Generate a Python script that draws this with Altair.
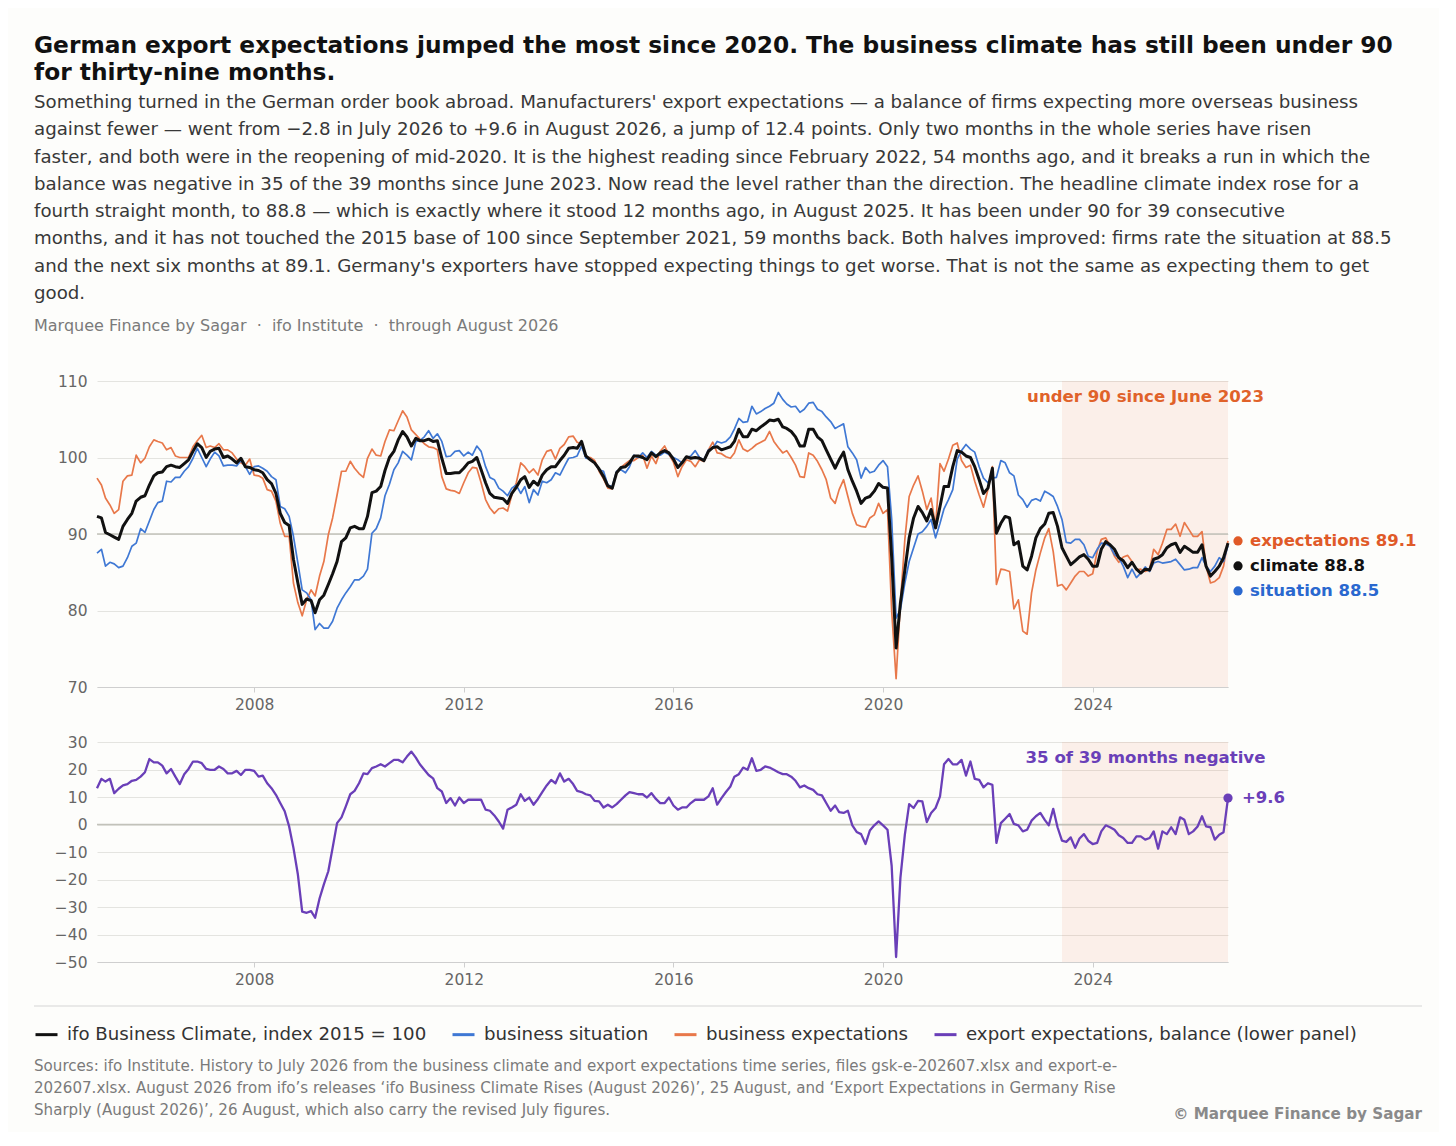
import altair as alt
import pandas as pd

# ---------------- data (monthly, Jan 2005 .. Aug 2026) ----------------
climate = [
    92.3, 92.1, 90.2, 89.9, 89.6, 89.3, 91.0, 91.9, 92.7, 94.3, 94.8, 95.0,      # 2005
    96.4, 97.6, 98.0, 98.1, 98.8, 99.0, 98.8, 98.7, 99.2, 99.7, 100.8, 101.8,    # 2006
    101.3, 100.0, 100.8, 101.1, 101.2, 100.0, 100.2, 99.8, 99.3, 99.9, 98.8, 98.7,  # 2007
    98.4, 98.3, 98.0, 97.1, 96.6, 95.3, 92.7, 91.5, 91.1, 86.7, 83.6, 80.8,      # 2008
    81.5, 81.3, 79.7, 81.4, 82.0, 83.4, 84.8, 86.4, 89.0, 89.5, 90.8, 91.0,      # 2009
    90.7, 90.7, 92.3, 95.4, 95.6, 96.2, 98.3, 100.0, 100.8, 102.3, 103.4, 102.7,  # 2010
    101.5, 102.5, 102.2, 102.2, 102.4, 102.1, 102.2, 99.9, 97.9, 97.9, 98.0, 98.0,  # 2011
    98.6, 99.3, 99.5, 100.0, 98.4, 96.7, 95.3, 94.8, 94.7, 94.6, 94.0, 95.3,     # 2012
    96.1, 97.1, 97.5, 96.1, 96.9, 96.4, 97.7, 98.4, 98.8, 98.8, 99.6, 100.3,     # 2013
    101.2, 101.3, 101.2, 102.1, 100.2, 99.7, 99.3, 98.5, 97.5, 96.3, 96.0, 98.0,  # 2014
    98.7, 98.8, 99.3, 100.2, 100.2, 100.0, 99.7, 100.6, 100.1, 100.6, 100.9, 100.6,  # 2015
    99.8, 98.7, 99.3, 100.1, 99.9, 100.0, 99.9, 99.6, 100.8, 101.3, 101.4, 101.0,  # 2016
    101.2, 101.4, 102.1, 103.7, 102.7, 102.7, 103.7, 103.5, 104.0, 104.4, 104.9, 104.8,  # 2017
    105.0, 104.0, 103.8, 103.4, 102.7, 101.5, 101.5, 103.7, 103.7, 102.7, 102.2, 101.0,  # 2018
    99.8, 98.6, 99.7, 100.7, 98.4, 96.9, 95.6, 94.0, 94.7, 94.9, 95.6, 96.6,     # 2019
    96.1, 96.0, 87.0, 75.1, 81.0, 85.3, 89.5, 92.1, 93.6, 92.8, 91.7, 93.2,      # 2020
    90.8, 93.6, 96.2, 96.2, 98.8, 100.9, 100.7, 100.2, 100.0, 98.8, 97.1, 95.3,  # 2021
    96.0, 98.6, 90.1, 91.4, 92.3, 92.1, 88.6, 89.0, 85.8, 85.3, 87.1, 89.5,      # 2022
    90.7, 91.3, 92.7, 92.8, 91.0, 88.2, 87.1, 86.0, 86.5, 87.0, 87.3, 86.7,      # 2023
    85.8, 85.8, 88.0, 89.0, 88.6, 88.0, 86.9, 86.5, 85.6, 86.3, 85.4, 84.9,      # 2024
    85.4, 85.3, 86.7, 86.9, 87.3, 88.2, 88.6, 88.8, 87.6, 88.4, 88.0, 87.6,      # 2025
    87.6, 88.6, 85.8, 84.5, 85.1, 85.8, 86.9, 88.8,                              # 2026
]

situation = [
    87.5, 88.0, 85.8, 86.3, 86.1, 85.6, 85.8, 86.9, 88.4, 88.8, 90.7, 90.2,      # 2005
    91.7, 93.2, 94.1, 94.3, 96.9, 96.8, 97.4, 97.4, 98.2, 98.8, 99.9, 101.2,     # 2006
    100.0, 98.8, 99.8, 100.7, 100.2, 98.9, 99.0, 99.0, 98.9, 99.6, 98.8, 97.8,   # 2007
    98.8, 98.9, 98.6, 98.2, 97.5, 97.1, 93.6, 93.3, 92.3, 89.7, 86.2, 82.7,      # 2008
    82.3, 81.4, 77.5, 78.3, 77.7, 77.7, 78.6, 80.3, 81.4, 82.3, 83.1, 84.0,      # 2009
    84.0, 84.5, 85.4, 90.1, 90.7, 92.1, 95.0, 96.5, 98.4, 99.3, 100.8, 100.3,    # 2010
    99.7, 102.1, 102.2, 102.7, 103.5, 102.5, 103.1, 102.1, 100.1, 100.2, 100.8, 100.9,  # 2011
    100.2, 100.7, 100.3, 101.5, 100.8, 98.8, 97.4, 97.1, 96.0, 95.6, 95.0, 96.0,  # 2012
    96.4, 95.3, 96.2, 94.1, 95.8, 95.1, 96.9, 96.7, 97.1, 98.0, 97.7, 98.8,      # 2013
    99.9, 100.0, 100.2, 101.5, 99.9, 99.8, 99.3, 98.4, 98.2, 96.4, 96.2, 98.2,   # 2014
    98.4, 98.0, 98.8, 100.3, 100.0, 100.6, 100.0, 100.8, 100.3, 100.3, 100.7, 100.4,  # 2015
    100.0, 99.7, 99.3, 100.0, 100.2, 100.9, 100.0, 99.7, 101.0, 101.2, 102.1, 101.9,  # 2016
    102.1, 102.7, 103.7, 105.1, 104.6, 104.7, 106.7, 105.7, 106.0, 106.4, 106.7, 107.1,  # 2017
    108.5, 107.6, 107.0, 106.6, 106.7, 105.9, 106.3, 107.1, 107.2, 106.3, 106.0, 105.3,  # 2018
    104.7, 103.8, 104.1, 104.4, 101.4, 100.6, 99.7, 97.3, 98.7, 98.0, 98.2, 99.0,  # 2019
    99.6, 98.8, 92.0, 79.0, 80.1, 83.6, 86.4, 88.2, 90.0, 90.3, 91.0, 91.9,      # 2020
    89.5, 91.4, 93.3, 94.5, 95.8, 99.8, 100.9, 101.7, 101.1, 100.7, 98.8, 97.3,  # 2021
    96.7, 97.3, 97.4, 99.6, 99.3, 98.0, 97.6, 95.1, 94.5, 93.5, 94.4, 94.6,      # 2022
    94.3, 95.6, 95.3, 94.9, 93.6, 91.9, 88.9, 88.8, 89.3, 89.3, 88.6, 87.1,      # 2023
    86.9, 88.0, 88.8, 88.7, 88.4, 87.3, 86.9, 85.8, 84.3, 85.4, 84.3, 84.9,      # 2024
    85.7, 85.1, 86.2, 86.4, 86.2, 86.3, 86.4, 86.7, 86.0, 85.3, 85.4, 85.6,      # 2025
    85.6, 86.9, 85.8, 85.1, 85.8, 86.9, 86.4, 88.5,                              # 2026
]

expectations = [
    97.3, 96.4, 94.7, 93.8, 92.7, 93.2, 96.9, 97.6, 97.7, 100.3, 99.3, 99.9,     # 2005
    101.4, 102.3, 102.1, 101.9, 101.0, 101.3, 100.2, 100.0, 100.0, 100.0, 101.4, 102.2,  # 2006
    102.9, 101.3, 101.5, 101.3, 101.8, 101.0, 101.0, 100.6, 99.8, 99.3, 99.0, 99.8,  # 2007
    97.7, 97.6, 97.3, 95.8, 95.6, 94.3, 91.4, 89.7, 89.7, 83.6, 81.0, 79.3,      # 2008
    81.4, 82.7, 81.9, 84.5, 86.4, 89.9, 92.1, 95.1, 98.2, 98.2, 99.5, 98.6,      # 2009
    97.9, 97.4, 99.9, 101.1, 100.3, 100.2, 102.1, 103.6, 103.5, 104.8, 106.1, 105.3,  # 2010
    103.6, 103.0, 102.4, 101.8, 101.4, 101.3, 101.0, 97.5, 95.9, 95.7, 95.6, 95.3,  # 2011
    96.7, 98.0, 98.7, 98.6, 96.7, 94.5, 93.4, 92.7, 93.3, 93.4, 93.0, 95.1,      # 2012
    96.7, 99.3, 98.8, 98.0, 98.5, 97.7, 99.7, 100.8, 101.0, 99.8, 101.2, 101.7,  # 2013
    102.7, 102.8, 102.0, 101.8, 100.1, 100.0, 99.6, 98.2, 97.2, 96.0, 95.9, 98.0,  # 2014
    98.7, 99.2, 99.6, 99.6, 100.0, 100.3, 98.6, 100.2, 99.2, 100.8, 101.5, 100.4,  # 2015
    99.4, 97.5, 98.8, 99.7, 99.5, 98.8, 99.7, 99.5, 101.0, 102.0, 100.6, 100.5,  # 2016
    100.1, 99.9, 100.6, 102.3, 101.1, 100.8, 101.2, 101.7, 102.0, 102.3, 103.4, 102.1,  # 2017
    101.3, 100.6, 100.9, 100.0, 99.0, 97.5, 97.4, 100.6, 100.3, 99.5, 98.4, 97.1,  # 2018
    94.7, 94.0, 95.8, 97.1, 94.9, 92.7, 91.2, 91.0, 90.9, 92.1, 92.5, 94.0,      # 2019
    92.7, 93.2, 80.0, 71.1, 81.0, 89.3, 94.9, 96.4, 97.6, 95.6, 93.2, 94.7,      # 2020
    91.0, 99.2, 98.2, 99.8, 101.6, 101.9, 99.6, 98.7, 99.0, 96.9, 95.1, 93.5,    # 2021
    95.8, 98.8, 83.4, 85.4, 85.3, 85.1, 80.2, 81.4, 77.3, 76.9, 82.3, 85.3,      # 2022
    87.5, 89.5, 90.7, 87.7, 83.2, 83.4, 82.7, 83.6, 84.5, 85.1, 85.1, 84.5,      # 2023
    84.8, 87.7, 89.3, 89.5, 88.4, 87.1, 86.3, 87.0, 87.2, 86.4, 85.3, 85.4,      # 2024
    85.1, 85.4, 88.0, 87.3, 88.8, 90.6, 90.6, 91.3, 89.7, 91.5, 90.6, 89.7,      # 2025
    89.7, 90.3, 85.8, 83.6, 83.8, 84.3, 85.8, 89.1,                              # 2026
]

exports = [
    13.2, 16.6, 15.6, 16.6, 11.4, 13.0, 14.2, 14.7, 15.9, 16.2, 17.4, 19.0,      # 2005
    23.8, 22.6, 22.6, 21.4, 18.6, 20.2, 17.4, 14.7, 18.3, 20.2, 22.9, 22.9,      # 2006
    22.3, 20.2, 19.9, 19.9, 21.1, 20.2, 18.6, 18.6, 19.5, 18.0, 19.9, 19.9,      # 2007
    19.5, 17.4, 17.8, 15.0, 13.2, 10.8, 7.8, 4.8, -0.7, -8.5, -18.2, -31.7,      # 2008
    -32.1, -31.5, -33.9, -26.9, -21.8, -17.0, -8.5, 0.5, 2.6, 6.6, 11.0, 12.2,   # 2009
    15.0, 18.6, 18.3, 20.5, 21.1, 21.9, 21.1, 22.3, 23.5, 23.5, 22.6, 24.7,      # 2010
    26.5, 24.3, 21.9, 19.9, 18.0, 16.8, 13.2, 12.0, 7.8, 9.6, 6.9, 9.8,          # 2011
    7.8, 9.0, 9.0, 9.0, 9.0, 5.4, 5.0, 3.3, 1.1, -1.5, 5.4, 6.2,                 # 2012
    7.2, 11.0, 8.6, 9.8, 7.2, 9.3, 11.8, 14.2, 16.2, 15.0, 18.6, 15.6,           # 2013
    16.6, 14.7, 12.2, 11.8, 11.0, 10.6, 8.6, 8.4, 6.2, 7.2, 6.2, 7.4,            # 2014
    9.0, 10.6, 11.8, 11.4, 11.0, 11.0, 9.8, 11.4, 9.3, 7.8, 7.8, 9.8,            # 2015
    6.9, 5.4, 6.2, 6.2, 7.8, 9.0, 9.0, 9.0, 10.2, 13.2, 7.2, 9.6,                # 2016
    11.8, 13.8, 17.4, 18.3, 20.7, 19.9, 24.1, 19.5, 19.9, 21.1, 20.7, 19.9,      # 2017
    19.0, 18.3, 18.3, 17.4, 15.9, 13.5, 14.2, 13.2, 12.6, 11.0, 10.6, 7.8,       # 2018
    5.0, 6.9, 4.5, 4.2, 5.0, -0.3, -2.7, -3.5, -7.1, -2.2, -0.3, 1.1,            # 2019
    -0.3, -1.9, -15.0, -48.2, -19.4, -3.7, 7.4, 6.0, 8.6, 8.4, 0.9, 4.2,         # 2020
    6.0, 10.2, 21.9, 23.8, 21.9, 21.9, 23.5, 17.8, 22.9, 16.6, 16.2, 13.5,       # 2021
    15.0, 14.4, -6.7, 0.5, 2.1, 3.8, 0.2, -0.3, -2.5, -1.9, 1.4, 3.0,            # 2022
    4.2, 1.7, -0.3, 5.7, -1.0, -5.9, -6.3, -4.7, -8.5, -5.1, -3.5, -5.9,         # 2023
    -7.1, -6.7, -2.5, -0.3, -1.0, -1.9, -3.9, -4.9, -6.7, -6.7, -4.3, -4.3,      # 2024
    -5.5, -4.9, -2.5, -8.8, -2.5, -3.5, -1.0, -3.5, 2.6, 1.7, -3.5, -2.5,        # 2025
    -0.7, 3.0, -0.7, -1.0, -5.5, -3.7, -2.8, 9.6,                                # 2026
]

series_names = [
    "ifo Business Climate, index 2015 = 100",
    "business situation",
    "business expectations",
    "export expectations, balance (lower panel)",
]
series_colors = ["#111111", "#3f78d4", "#e8784a", "#6a3fb8"]

year_ticks = [2008, 2012, 2016, 2020, 2024]
y_upper_ticks = [70, 80, 90, 100, 110]
y_lower_ticks = [-50, -40, -30, -20, -10, 0, 10, 20, 30]

title_lines = [
    "German export expectations jumped the most since 2020. The business climate has still been under 90",
    "for thirty-nine months.",
]
subtitle_lines = [
    "Something turned in the German order book abroad. Manufacturers' export expectations \u2014 a balance of firms expecting more overseas business",
    "against fewer \u2014 went from \u22122.8 in July 2026 to +9.6 in August 2026, a jump of 12.4 points. Only two months in the whole series have risen",
    "faster, and both were in the reopening of mid-2020. It is the highest reading since February 2022, 54 months ago, and it breaks a run in which the",
    "balance was negative in 35 of the 39 months since June 2023. Now read the level rather than the direction. The headline climate index rose for a",
    "fourth straight month, to 88.8 \u2014 which is exactly where it stood 12 months ago, in August 2025. It has been under 90 for 39 consecutive",
    "months, and it has not touched the 2015 base of 100 since September 2021, 59 months back. Both halves improved: firms rate the situation at 88.5",
    "and the next six months at 89.1. Germany's exporters have stopped expecting things to get worse. That is not the same as expecting them to get",
    "good.",
]
byline = "Marquee Finance by Sagar \u00a0\u00b7\u00a0 ifo Institute \u00a0\u00b7\u00a0 through August 2026"
source_lines = [
    "Sources: ifo Institute. History to July 2026 from the business climate and export expectations time series, files gsk-e-202607.xlsx and export-e-",
    "202607.xlsx. August 2026 from ifo\u2019s releases \u2018ifo Business Climate Rises (August 2026)\u2019, 25 August, and \u2018Export Expectations in Germany Rise",
    "Sharply (August 2026)\u2019, 26 August, which also carry the revised July figures.",
]
copyright_text = "\u00a9 Marquee Finance by Sagar"

# ---------------- frames ----------------
n = len(climate)
dates = [f"{2005 + i // 12}/{i % 12 + 1:02d}/01" for i in range(n)]

def frame(values, name):
    return pd.DataFrame({"date": dates, "value": values, "series": name})

df_clim = frame(climate, series_names[0])
df_sit = frame(situation, series_names[1])
df_exp = frame(expectations, series_names[2])
df_x = frame(exports, series_names[3])
last_up = pd.DataFrame({
    "date": [dates[-1]] * 3,
    "value": [expectations[-1], climate[-1], situation[-1]],
    "label": [f"expectations {expectations[-1]}", f"climate {climate[-1]}", f"situation {situation[-1]}"],
})
last_x = pd.DataFrame({"date": [dates[-1]], "value": [exports[-1]], "label": [f"+{exports[-1]}"]})
shade = pd.DataFrame({"start": ["2023/06/01"], "end": [dates[-1]]})
one = pd.DataFrame({"a": [0]})

FONT = "DejaVu Sans"
W, H = 1131, 581
UP_RANGE = [306, 0]
LOW_RANGE = [581, 361]

x_dom = [alt.DateTime(year=2005, month=1, date=1), alt.DateTime(year=2026, month=8, date=1)]

def xenc(field, offset):
    return alt.X(
        f"{field}:T",
        scale=alt.Scale(domain=x_dom),
        axis=alt.Axis(
            values=[alt.DateTime(year=y, month=1, date=1) for y in year_ticks],
            format="%Y", orient="bottom", offset=offset, grid=False,
            domainColor="#cfcfcf", tickColor="#cfcfcf", tickSize=5,
            labelFontSize=15.5, labelColor="#666666", labelFont=FONT, labelPadding=5,
            title=None,
        ),
    )

def y_axis(vals):
    return alt.Axis(
        values=vals, orient="left", domain=False, ticks=False, grid=True,
        gridColor="#e4e4e0", gridWidth=1, labelFontSize=15.5, labelColor="#666666",
        labelFont=FONT, labelPadding=10, title=None,
    )

up_scale = alt.Scale(domain=[70, 110], range=UP_RANGE, nice=False, zero=False)
low_scale = alt.Scale(domain=[-50, 30], range=LOW_RANGE, nice=False, zero=False)

def yup(field="value"):
    return alt.Y(f"{field}:Q", scale=up_scale, axis=y_axis(y_upper_ticks))

def ylow(field="value"):
    return alt.Y(f"{field}:Q", scale=low_scale, axis=y_axis(y_lower_ticks))

color = alt.Color(
    "series:N",
    scale=alt.Scale(domain=series_names, range=series_colors),
    legend=alt.Legend(
        orient="none", legendX=-63, legendY=641, direction="horizontal", columns=4,
        columnPadding=19, symbolType="stroke", symbolSize=484, symbolStrokeWidth=3,
        labelFontSize=18.2, labelColor="#333333", labelFont=FONT, labelOffset=8,
        labelLimit=0, title=None, padding=0,
    ),
)

# ---------------- upper panel ----------------
up_shade = alt.Chart(shade).mark_rect(color="#e8643a", opacity=0.09).encode(
    x=xenc("start", -275), x2="end:T",
    y=alt.YDatum(110, type="quantitative", scale=up_scale, axis=y_axis(y_upper_ticks)),
    y2=alt.Y2Datum(70),
)
up_rule = alt.Chart(one).mark_rule(color="#c2c2ba", strokeWidth=1.3).encode(
    y=alt.YDatum(90, type="quantitative", scale=up_scale, axis=y_axis(y_upper_ticks))
)
def up_line(df, width):
    return alt.Chart(df).mark_line(strokeWidth=width, strokeJoin="round").encode(
        x=xenc("date", -275), y=yup(), color=color
    )

lab_cfg = [(0, "#e05a28", 0), (1, "#111111", 22.8), (2, "#2a68cf", 45.5)]
up_labels = []
for idx, col, dy in lab_cfg:
    d = last_up.iloc[[idx]]
    up_labels.append(
        alt.Chart(d).mark_circle(size=85, opacity=1, color=col, xOffset=10, yOffset=dy).encode(
            x=xenc("date", -275), y=yup()
        )
    )
    up_labels.append(
        alt.Chart(d).mark_text(align="left", baseline="middle", font=FONT, fontSize=16.5,
                               fontWeight="bold", color=col, xOffset=22, yOffset=dy).encode(
            x=xenc("date", -275), y=yup(), text="label:N"
        )
    )

up_note = alt.Chart(one).mark_text(
    text="under 90 since June 2023", align="center", baseline="middle", font=FONT,
    fontSize=16.6, fontWeight="bold", color="#e0622a",
).encode(x=alt.value(1048.5), y=alt.value(16))

header_title = alt.Chart(one).mark_text(
    text=title_lines, align="left", baseline="alphabetic", font=FONT, fontSize=23.3,
    fontWeight="bold", color="#111111", lineHeight=27,
).encode(x=alt.value(-63), y=alt.value(-328))
header_sub = alt.Chart(one).mark_text(
    text=subtitle_lines, align="left", baseline="alphabetic", font=FONT, fontSize=18.2,
    color="#383838", lineHeight=27.25,
).encode(x=alt.value(-63), y=alt.value(-273))
header_by = alt.Chart(one).mark_text(
    text=byline, align="left", baseline="alphabetic", font=FONT, fontSize=16,
    color="#7a7a7a",
).encode(x=alt.value(-63), y=alt.value(-50))

upper = alt.layer(
    up_shade, up_rule,
    up_line(df_exp, 1.7), up_line(df_sit, 1.7), up_line(df_clim, 3.0),
    *up_labels, up_note, header_title, header_sub, header_by,
)

# ---------------- lower panel ----------------
low_shade = alt.Chart(shade).mark_rect(color="#e8643a", opacity=0.09).encode(
    x=xenc("start", 0), x2="end:T",
    y=alt.YDatum(30, type="quantitative", scale=low_scale, axis=y_axis(y_lower_ticks)),
    y2=alt.Y2Datum(-50),
)
low_rule = alt.Chart(one).mark_rule(color="#c2c2ba", strokeWidth=1.3).encode(
    y=alt.YDatum(0, type="quantitative", scale=low_scale, axis=y_axis(y_lower_ticks))
)
low_line = alt.Chart(df_x).mark_line(strokeWidth=2.3, strokeJoin="round").encode(
    x=xenc("date", 0), y=ylow(), color=color
)
low_dot = alt.Chart(last_x).mark_circle(size=85, opacity=1, color="#6a3fb8").encode(
    x=xenc("date", 0), y=ylow()
)
low_lab = alt.Chart(last_x).mark_text(
    align="left", baseline="middle", font=FONT, fontSize=16.5, fontWeight="bold",
    color="#6a3fb8", xOffset=14,
).encode(x=xenc("date", 0), y=ylow(), text="label:N")
low_note = alt.Chart(one).mark_text(
    text="35 of 39 months negative", align="center", baseline="middle", font=FONT,
    fontSize=16.6, fontWeight="bold", color="#6a3fb8",
).encode(x=alt.value(1048.5), y=alt.value(377))

divider = alt.Chart(one).mark_rule(color="#d6d6d6", strokeWidth=1.2).encode(
    x=alt.value(-63), x2=alt.value(1325), y=alt.value(625)
)
sources = alt.Chart(one).mark_text(
    text=source_lines, align="left", baseline="alphabetic", font=FONT, fontSize=15.1,
    color="#7a7a7a", lineHeight=22,
).encode(x=alt.value(-63), y=alt.value(690))
copyright_mark = alt.Chart(one).mark_text(
    text=copyright_text, align="right", baseline="alphabetic", font=FONT, fontSize=15.2,
    fontWeight="bold", color="#8a8a8a",
).encode(x=alt.value(1325), y=alt.value(738))

lower = alt.layer(
    low_shade, low_rule, low_line, low_dot, low_lab, low_note,
    divider, sources, copyright_mark,
)

chart = (
    alt.layer(upper, lower)
    .resolve_scale(x="independent", y="independent")
    .properties(
        width=W, height=H,
        autosize=alt.AutoSizeParams(type="none"),
        padding={"left": 89, "top": 373, "right": 211, "bottom": 170},
    )
    .configure(background="#fdfdfb", font=FONT)
    .configure_view(stroke=None)
)

chart.save("out.html", embed_options={"renderer": "svg", "actions": False})
